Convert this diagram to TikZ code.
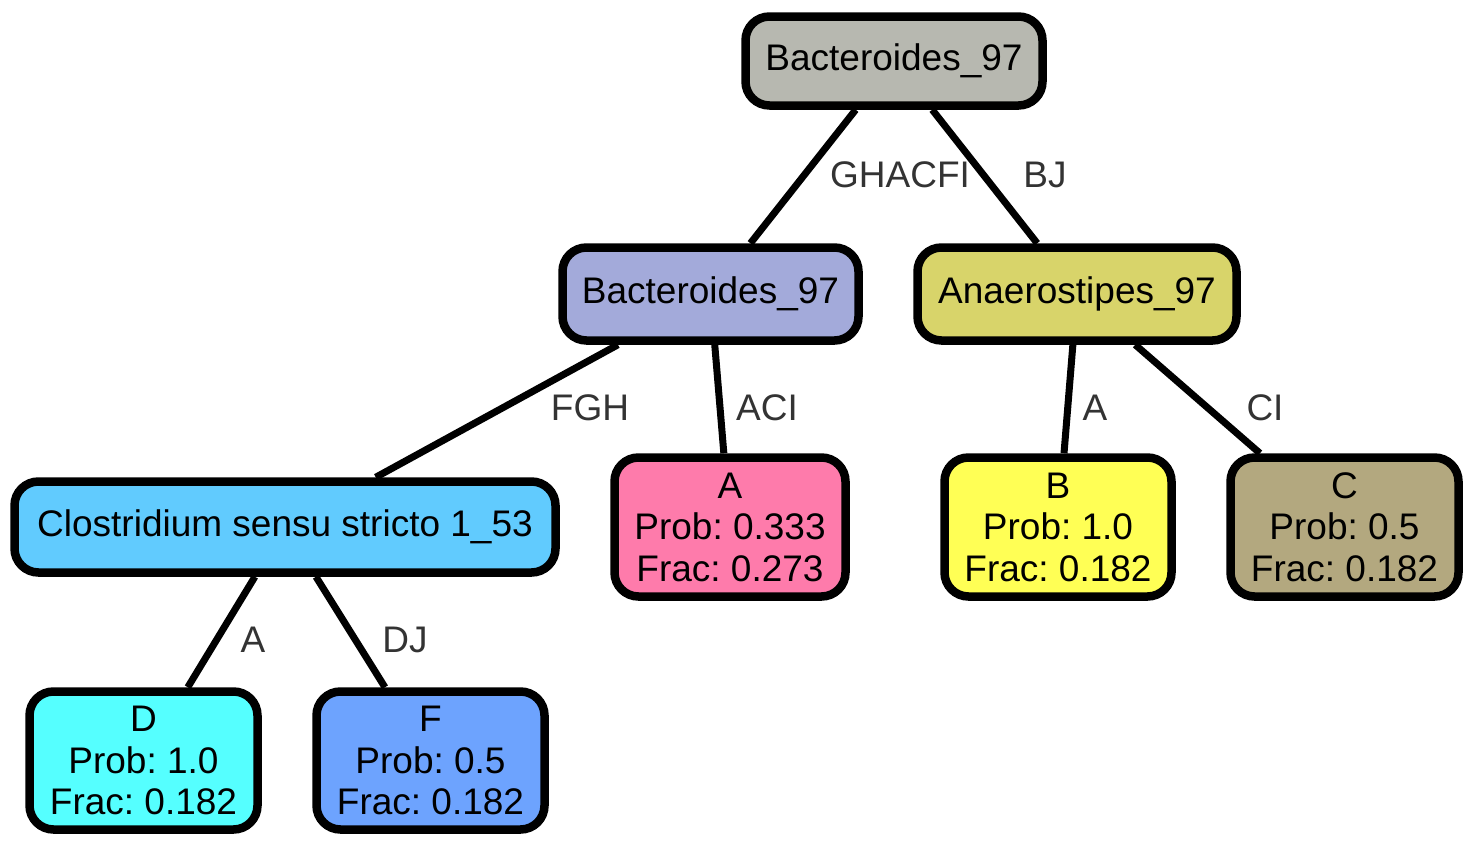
\documentclass[tikz,border=0pt]{standalone}
\usepackage{fontspec}
\setmainfont{Liberation Sans}
\frenchspacing
\definecolor{cRoot}{HTML}{B7B8B0}
\definecolor{cBtwo}{HTML}{A3AADA}
\definecolor{cAn}{HTML}{D8D46A}
\definecolor{cCl}{HTML}{61CBFE}
\definecolor{cA}{HTML}{FE7BAB}
\definecolor{cB}{HTML}{FFFF55}
\definecolor{cC}{HTML}{B3A87F}
\definecolor{cD}{HTML}{55FFFF}
\definecolor{cF}{HTML}{6DA3FE}
\definecolor{lbl}{HTML}{333333}
\tikzset{
  tnode/.style={draw=black, line width=8.5pt, rounded corners=24pt, inner sep=0pt,
    align=center, font=\fontsize{37}{41.5}\selectfont, text=black},
  conn/.style={draw=black, line width=7pt},
  elabel/.style={font=\fontsize{37}{41.5}\selectfont, text=lbl, inner sep=0pt}
}
\begin{document}
\begin{tikzpicture}[x=1pt,y=-1pt]
\useasboundingbox (0,0) rectangle (1474,846);
\node[tnode, fill=cRoot, minimum width=297pt, minimum height=89pt] (root) at (894,61) {Bacteroides\_97};
\node[tnode, fill=cBtwo, minimum width=296pt, minimum height=93pt] (b2) at (710.5,294) {Bacteroides\_97};
\node[tnode, fill=cAn, minimum width=319pt, minimum height=93pt] (an) at (1077,294) {Anaerostipes\_97};
\node[tnode, fill=cCl, minimum width=541pt, minimum height=91pt] (cl) at (285,527) {Clostridium sensu stricto 1\_53};
\node[tnode, fill=cA, minimum width=231pt, minimum height=139pt] (la) at (730,527) {A\\Prob: 0.333\\Frac: 0.273};
\node[tnode, fill=cB, minimum width=227pt, minimum height=139pt] (lb) at (1058,527) {B\\Prob: 1.0\\Frac: 0.182};
\node[tnode, fill=cC, minimum width=228pt, minimum height=139pt] (lc) at (1344.5,527) {C\\Prob: 0.5\\Frac: 0.182};
\node[tnode, fill=cD, minimum width=228pt, minimum height=138pt] (ld) at (143.5,760.5) {D\\Prob: 1.0\\Frac: 0.182};
\node[tnode, fill=cF, minimum width=228pt, minimum height=138pt] (lf) at (430.5,760.5) {F\\Prob: 0.5\\Frac: 0.182};
\draw[conn] (root) -- (b2);
\draw[conn] (root) -- (an);
\draw[conn] (b2) -- (cl);
\draw[conn] (b2) -- (la);
\draw[conn] (an) -- (lb);
\draw[conn] (an) -- (lc);
\draw[conn] (cl) -- (ld);
\draw[conn] (cl) -- (lf);
\node[elabel] (e1) at (900,175) {GHACFI};
\node[elabel] (e2) at (1045,175) {BJ};
\node[elabel] (e3) at (590,408) {FGH};
\node[elabel] (e4) at (767,408) {ACI};
\node[elabel] (e5) at (1095,408) {A};
\node[elabel] (e6) at (1265,408) {CI};
\node[elabel] (e7) at (253,640) {A};
\node[elabel] (e8) at (405,640) {DJ};
\end{tikzpicture}
\end{document}
